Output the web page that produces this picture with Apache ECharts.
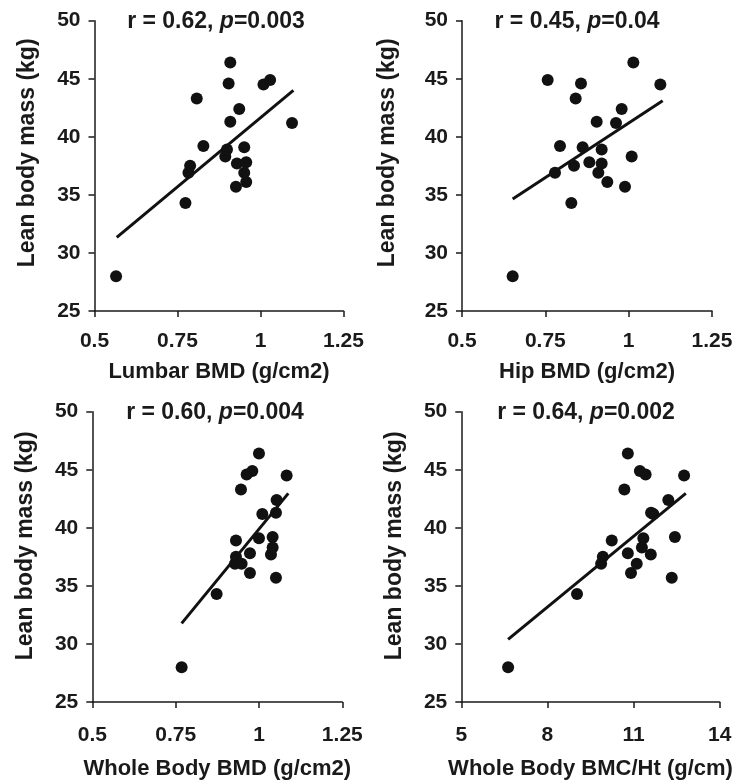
<!DOCTYPE html>
<html>
<head>
<meta charset="utf-8">
<script src="https://cdn.jsdelivr.net/npm/echarts@6/dist/echarts.min.js"></script>
<style>html,body{margin:0;padding:0;background:#fff}#c{width:745px;height:783px}</style>
</head>
<body>
<div id="c"></div>
<script>
// Lean body mass (kg), one value per subject (shared by all four panels)
const leanMass = [28.0, 34.3, 35.7, 36.1, 36.9, 36.9, 37.5, 37.7, 37.8, 38.3, 38.9, 39.1, 39.2, 41.2, 41.3, 42.4, 43.3, 44.5, 44.6, 44.9, 46.4];
// Predictors, same subject order
const lumbarBMD = [0.565, 0.774, 0.926, 0.957, 0.783, 0.951, 0.788, 0.929, 0.957, 0.894, 0.899, 0.951, 0.828, 1.095, 0.909, 0.936, 0.808, 1.009, 0.904, 1.029, 0.909];
const hipBMD = [0.652, 0.828, 0.989, 0.936, 0.779, 0.909, 0.836, 0.919, 0.882, 1.009, 0.919, 0.862, 0.794, 0.962, 0.904, 0.979, 0.841, 1.095, 0.857, 0.757, 1.014];
const wholeBodyBMD = [0.768, 0.873, 1.051, 0.973, 0.928, 0.948, 0.931, 1.036, 0.973, 1.041, 0.931, 1.000, 1.041, 1.010, 1.051, 1.053, 0.946, 1.083, 0.963, 0.980, 1.000];
const wholeBodyBMCHt = [6.63, 9.03, 12.33, 10.91, 9.87, 11.11, 9.93, 11.60, 10.80, 11.29, 10.24, 11.34, 12.44, 11.69, 11.61, 12.21, 10.68, 12.76, 11.42, 11.22, 10.80];
// Regression line end points [x, y]
const fitLumbar = [[0.567, 31.34], [1.099, 44.0]];
const fitHip = [[0.652, 34.64], [1.102, 43.11]];
const fitWholeBMD = [[0.768, 31.77], [1.088, 42.97]];
const fitBMCHt = [[6.63, 30.40], [12.82, 42.97]];
// Stats labels
const rValues = ['0.62', '0.45', '0.60', '0.64'];
const pValues = ['0.003', '0.04', '0.004', '0.002'];
const xNames = ['Lumbar BMD (g/cm2)', 'Hip BMD (g/cm2)', 'Whole Body BMD (g/cm2)', 'Whole Body BMC/Ht (g/cm)'];
const yName = 'Lean body mass (kg)';
const xRanges = [[0.5, 1.25, 0.25], [0.5, 1.25, 0.25], [0.5, 1.25, 0.25], [5, 14, 3]];
const yRange = [25, 50, 5];

const predictors = [lumbarBMD, hipBMD, wholeBodyBMD, wholeBodyBMCHt];
const fits = [fitLumbar, fitHip, fitWholeBMD, fitBMCHt];

const ink = '#1a1a1a';
const grids = [
  {left: 94.5, top: 20.7, width: 249, height: 290.3},
  {left: 462, top: 20.7, width: 250, height: 290.3},
  {left: 92.3, top: 411.7, width: 250, height: 290.3},
  {left: 461.3, top: 411.7, width: 258.4, height: 290.3}
];
const titleX = [216, 577, 215, 586];
const titleY = [10, 10, 401, 401];
const yNameGap = [55, 63, 55, 55];
const yNameShift = [26, 26, 22, 22];
const xLabelMargin = [20, 20, 23, 23];
const xNameGap = [50, 50, 56, 56];
const font = 'Liberation Sans, Arial, sans-serif';

const option = {
  animation: false,
  backgroundColor: '#fff',
  title: rValues.map((r, i) => ({
    text: '{n|r = ' + r + ', }{i|p}{n|=' + pValues[i] + '}',
    left: titleX[i], top: titleY[i], textAlign: 'center', padding: 0,
    textStyle: {
      rich: {
        n: {fontSize: 23, fontWeight: 'bold', fontFamily: font, color: ink},
        i: {fontSize: 23, fontWeight: 'bold', fontStyle: 'italic', fontFamily: font, color: ink}
      }
    }
  })),
  grid: grids.map(g => Object.assign({containLabel: false, outerBoundsMode: 'none'}, g)),
  xAxis: xRanges.map((rg, i) => ({
    type: 'value', gridIndex: i, min: rg[0], max: rg[1], interval: rg[2],
    name: xNames[i], nameLocation: 'middle', nameGap: xNameGap[i],
    nameTextStyle: {fontSize: 22, fontWeight: 'bold', fontFamily: font, color: ink},
    axisLine: {show: true, onZero: false, lineStyle: {color: ink, width: 1.5}},
    axisTick: {show: true, inside: false, length: 6, lineStyle: {color: ink, width: 1.5}},
    axisLabel: {fontSize: 21, fontWeight: 'bold', fontFamily: font, color: ink, margin: xLabelMargin[i]},
    splitLine: {show: false}
  })),
  yAxis: xRanges.map((rg, i) => ({
    type: 'value', gridIndex: i, min: yRange[0], max: yRange[1], interval: yRange[2],
    name: yName, nameLocation: 'middle', nameGap: yNameGap[i], nameRotate: 90,
    nameTextStyle: {fontSize: 23, fontWeight: 'bold', fontFamily: font, color: ink, padding: [0, 0, 0, yNameShift[i]]},
    axisLine: {show: true, onZero: false, lineStyle: {color: ink, width: 1.5}},
    axisTick: {show: true, inside: false, length: 6, lineStyle: {color: ink, width: 1.5}},
    axisLabel: {fontSize: 21, fontWeight: 'bold', fontFamily: font, color: ink, margin: 14},
    splitLine: {show: false}
  })),
  series: []
};

predictors.forEach((xs, i) => {
  option.series.push({
    type: 'scatter', xAxisIndex: i, yAxisIndex: i,
    data: xs.map((x, k) => [x, leanMass[k]]),
    symbol: 'circle', symbolSize: 12,
    itemStyle: {color: '#111', opacity: 1}
  });
  option.series.push({
    type: 'line', xAxisIndex: i, yAxisIndex: i,
    data: fits[i], symbol: 'none',
    lineStyle: {color: '#111', width: 3}
  });
});

const chart = echarts.init(document.getElementById('c'), null, {renderer: 'canvas'});
chart.setOption(option);
</script>
</body>
</html>
